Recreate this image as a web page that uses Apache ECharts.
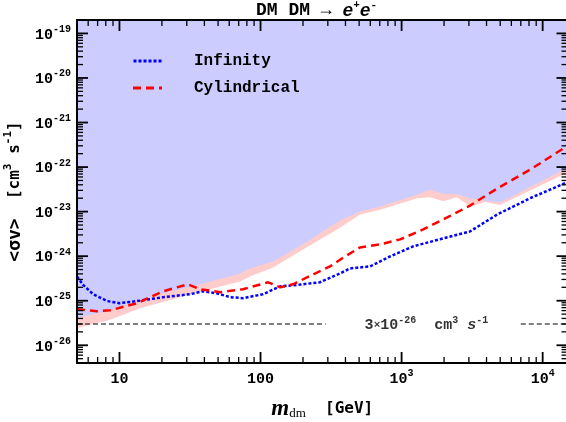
<!DOCTYPE html>
<html><head><meta charset="utf-8">
<script src="https://cdn.jsdelivr.net/npm/echarts@6/dist/echarts.min.js"></script>
<style>html,body{margin:0;padding:0;background:#fff}#c{width:566px;height:422px}</style>
</head><body><div id="c"></div>
<script>
// ---- data ----
const xRange = [5, 15000];
const yRange = [4e-27, 2e-19];

const bandMass = [5, 6, 8, 10, 14, 20, 37, 72, 84, 123, 214, 311, 367, 508, 705, 1290, 1590, 1970, 2470, 3060, 3910, 4990, 15000];
const bandLow  = [2.4e-26, 2.8e-26, 3.5e-26, 4.5e-26, 6.8e-26, 9.2e-26, 1.6e-25, 2.7e-25, 3.5e-25, 5.6e-25, 1.6e-24, 3.2e-24, 4.4e-24, 8.6e-24, 1.1e-23, 2.0e-23, 2.1e-23, 1.7e-23, 2.1e-23, 1.3e-23, 1.65e-23, 1.4e-23, 7.5e-23];
const bandHigh = [4.1e-26, 4.7e-26, 5.8e-26, 7.2e-26, 1.05e-25, 1.45e-25, 2.3e-25, 4.1e-25, 5.3e-25, 7.6e-25, 2.1e-24, 4.6e-24, 6.3e-24, 1.0e-23, 1.3e-23, 2.4e-23, 3.1e-23, 2.5e-23, 2.5e-23, 2.0e-23, 1.75e-23, 1.6e-23, 9.7e-23];

const infMass = [5, 5.5, 6.5, 8.2, 10, 13.3, 20.4, 31.7, 39, 49, 61, 75, 104, 138, 191, 264, 366, 431, 598, 829, 1206, 1874, 3060, 4756, 8147, 15000];
const infVal  = [3.5e-25, 2.3e-25, 1.4e-25, 9.8e-26, 8.8e-26, 9.8e-26, 1.2e-25, 1.4e-25, 1.63e-25, 1.47e-25, 1.2e-25, 1.14e-25, 1.4e-25, 2.1e-25, 2.3e-25, 2.6e-25, 4.1e-25, 5.3e-25, 5.9e-25, 9.9e-25, 1.66e-24, 2.4e-24, 3.6e-24, 8.6e-24, 2.0e-23, 4.6e-23];

const cylMass = [5, 6.95, 8.6, 13.3, 20.4, 30.6, 37.3, 52, 75, 113, 138, 170, 236, 311, 398, 508, 705, 977, 1422, 2104, 3060, 4756, 8147, 15000];
const cylVal  = [6.4e-26, 5.8e-26, 6.1e-26, 8.8e-26, 1.63e-25, 2.34e-25, 1.81e-25, 1.55e-25, 1.81e-25, 2.59e-25, 2.0e-25, 2.34e-25, 3.9e-25, 5.9e-25, 9.9e-25, 1.57e-24, 1.84e-24, 2.38e-24, 3.98e-24, 7.4e-24, 1.37e-23, 3.3e-23, 8.75e-23, 3.0e-22];

const refValue = 3e-26;
const refLeftMass = [5, 290];
const refRightMass = [7000, 15000];
const refLabelMass = 1500;

const xMajorTicks = [10, 100, 1000, 10000];
const xTickLabels = ['10', '100', '10^3', '10^4'];
const yMajorTicks = [1e-26, 1e-25, 1e-24, 1e-23, 1e-22, 1e-21, 1e-20, 1e-19];
const yTickLabels = ['10^-26', '10^-25', '10^-24', '10^-23', '10^-22', '10^-21', '10^-20', '10^-19'];
const tickMultipliers = [2, 3, 4, 5, 6, 7, 8, 9];

// ---- layout ----
const GRID = {left: 77, top: 20, width: 490.5, height: 343};

// ---- helpers (the axes run in log10 space) ----
const L10 = Math.log10;
const MONO = '"Liberation Mono", "Courier New", monospace';
const SMONO = '"DejaVu Sans Mono", monospace';
const pair = (xs, ys) => xs.map((x, i) => [L10(x), L10(ys[i])]);
const toRich = s => { const p = s.split('^'); return '{b|' + p[0] + '}' + (p[1] ? '{s|' + p[1] + '}' : ''); };
const findLabel = (v, ticks, labels) => {
  for (let i = 0; i < ticks.length; i++) {
    if (Math.abs(v - L10(ticks[i])) < 1e-6) return toRich(labels[i]);
  }
  return '';
};
const tickRich = {
  b: {fontFamily: MONO, fontWeight: 'bold', fontSize: 15, lineHeight: 15, padding: [3, 0, 0, 0], color: '#000'},
  s: {fontFamily: MONO, fontWeight: 'bold', fontSize: 10, lineHeight: 10, padding: [0, 0, 8, 0], color: '#000'}
};
function minorTicks(range) {
  const out = [];
  const d0 = Math.floor(L10(range[0])), d1 = Math.ceil(L10(range[1]));
  for (let d = d0; d <= d1; d++) {
    tickMultipliers.forEach(k => {
      const v = k * Math.pow(10, d);
      if (v > range[0] * 1.0001 && v < range[1] * 0.9999) out.push(L10(v));
    });
  }
  return out;
}
const xr = xRange.map(L10), yr = yRange.map(L10);
const xMajorLog = xMajorTicks.map(L10), yMajorLog = yMajorTicks.map(L10);
const xMinorLog = minorTicks(xRange), yMinorLog = minorTicks(yRange);

// tick lengths (pixels) expressed in axis units of the log10 axes
const xPerPx = (xr[1] - xr[0]) / GRID.width, yPerPx = (yr[1] - yr[0]) / GRID.height;
const tickSeries = (data, w) => ({
  type: 'line', silent: true, symbol: 'none', z: 20, clip: false,
  data: data, lineStyle: {color: '#000', width: w, type: 'solid'}
});
const tickMarks = [];
[[xMajorLog, 11, 1.8], [xMinorLog, 6, 1.3]].forEach(([vals, len, w]) => vals.forEach(v => {
  tickMarks.push(tickSeries([[v, yr[0]], [v, yr[0] + len * yPerPx]], w));
  tickMarks.push(tickSeries([[v, yr[1]], [v, yr[1] - len * yPerPx]], w));
}));
[[yMajorLog, 11, 1.8], [yMinorLog, 6, 1.3]].forEach(([vals, len, w]) => vals.forEach(v => {
  tickMarks.push(tickSeries([[xr[0], v], [xr[0] + len * xPerPx, v]], w));
  tickMarks.push(tickSeries([[xr[1], v], [xr[1] - len * xPerPx, v]], w));
}));

const axisBase = (extra) => Object.assign({
  type: 'value', scale: true,
  axisLine: {show: true, onZero: false, lineStyle: {color: '#000', width: 2}},
  axisTick: {show: false},
  axisLabel: {show: false},
  splitLine: {show: false},
  minorTick: {show: false},
  z: 10
}, extra);

const blueIcon = 'path://M0 0h3v3H0zM5 0h3v3H5zM10 0h3v3h-3zM15 0h3v3h-3zM20 0h3v3h-3zM25 0h3v3h-3z';
const redIcon = 'path://M0 0h8v3H0zM13 0h8v3h-8zM26 0h3v3h-3z';

const option = {
  animation: false,
  backgroundColor: '#fff',
  title: {
    text: 'DM DM → {i|e}{s|+}{i|e}{s|-}',
    left: 256, top: 1, padding: 0,
    textStyle: {
      fontFamily: MONO, fontWeight: 'bold', fontSize: 18, lineHeight: 18, color: '#000', padding: [3, 0, 0, 0],
      rich: {
        i: {fontFamily: MONO, fontWeight: 'bold', fontStyle: 'italic', fontSize: 18, lineHeight: 18, padding: [3, 0, 0, 0], color: '#000'},
        s: {fontFamily: MONO, fontWeight: 'bold', fontSize: 11, lineHeight: 11, padding: [0, 0, 10, 0], color: '#000'}
      }
    }
  },
  legend: {
    data: [{name: 'Infinity', icon: blueIcon}, {name: 'Cylindrical', icon: redIcon}],
    orient: 'vertical', left: 128, top: 48,
    itemWidth: 29, itemHeight: 3, itemGap: 11,
    textStyle: {fontFamily: MONO, fontWeight: 'bold', fontSize: 16, color: '#000', padding: [0, 0, 0, 27]}
  },
  grid: Object.assign({containLabel: false, outerBoundsMode: 'none'}, GRID),
  xAxis: [
    axisBase({
      min: xr[0], max: xr[1], position: 'bottom',
      axisLabel: {show: true, margin: 7, customValues: xMajorLog, formatter: v => findLabel(v, xMajorTicks, xTickLabels), rich: tickRich},
      name: '{m|m}{d|dm}{g|  [GeV]}', nameLocation: 'middle', nameGap: 35,
      nameTextStyle: {
        color: '#000',
        rich: {
          m: {fontFamily: '"Liberation Serif", serif', fontStyle: 'italic', fontWeight: 'bold', fontSize: 23, lineHeight: 22, color: '#000'},
          d: {fontFamily: '"Liberation Serif", serif', fontSize: 13, lineHeight: 13, padding: [9, 0, 0, 0], color: '#000'},
          g: {fontFamily: SMONO, fontWeight: 'bold', fontSize: 16, lineHeight: 22, color: '#000'}
        }
      }
    }),
    axisBase({min: xr[0], max: xr[1], position: 'top'})
  ],
  yAxis: [
    axisBase({
      min: yr[0], max: yr[1], position: 'left',
      axisLabel: {show: true, margin: 6, customValues: yMajorLog, formatter: v => findLabel(v, yMajorTicks, yTickLabels), rich: tickRich},
      name: '{g|<σv>}{n|  [cm}{s|3}{n| s}{s|-1}{n|]}', nameLocation: 'middle', nameGap: 48,
      nameTextStyle: {
        color: '#000',
        rich: {
          g: {fontFamily: SMONO, fontWeight: 'bold', fontSize: 18, lineHeight: 16, padding: [4, 0, 0, 0], color: '#000'},
          n: {fontFamily: SMONO, fontWeight: 'bold', fontSize: 16, lineHeight: 16, padding: [4, 0, 0, 0], color: '#000'},
          s: {fontFamily: SMONO, fontWeight: 'bold', fontSize: 11, lineHeight: 11, padding: [0, 0, 9, 0], color: '#000'}
        }
      }
    }),
    axisBase({min: yr[0], max: yr[1], position: 'right'})
  ],
  series: [
    {
      name: 'band', type: 'line', silent: true, symbol: 'none', z: 1,
      data: pair(bandMass, bandLow),
      lineStyle: {width: 0},
      areaStyle: {color: '#ffcccc', opacity: 1, origin: 'end'}
    },
    {
      name: 'excluded', type: 'line', silent: true, symbol: 'none', z: 1,
      data: pair(bandMass, bandHigh),
      lineStyle: {width: 0},
      areaStyle: {color: '#ccccff', opacity: 1, origin: 'end'}
    },
    {
      name: 'refA', type: 'line', silent: true, symbol: 'none', z: 3,
      data: pair(refLeftMass, refLeftMass.map(() => refValue)),
      lineStyle: {color: '#000', width: 1, type: [5, 3]}
    },
    {
      name: 'refB', type: 'line', silent: true, symbol: 'none', z: 3,
      data: pair(refRightMass, refRightMass.map(() => refValue)),
      lineStyle: {color: '#000', width: 1, type: [5, 3]}
    },
    {
      name: 'refLabel', type: 'scatter', silent: true, symbolSize: 0, z: 5,
      data: pair([refLabelMass], [refValue]),
      label: {
        show: true, position: 'inside',
        formatter: '{n|3}{x|×}{n|10}{s|-26}{n|  cm}{s|3}{n| }{i|s}{s|-1}',
        rich: {
          n: {fontFamily: MONO, fontWeight: 'bold', fontSize: 15, lineHeight: 15, padding: [3, 0, 0, 0], color: '#000'},
          x: {fontFamily: MONO, fontWeight: 'bold', fontSize: 11, lineHeight: 15, padding: [3, 0, 0, 0], color: '#000'},
          i: {fontFamily: MONO, fontWeight: 'bold', fontStyle: 'italic', fontSize: 15, lineHeight: 15, padding: [3, 0, 0, 0], color: '#000'},
          s: {fontFamily: MONO, fontWeight: 'bold', fontSize: 10, lineHeight: 10, padding: [0, 0, 8, 0], color: '#000'}
        }
      }
    },
    {
      name: 'Infinity', type: 'line', symbol: 'none', z: 4,
      data: pair(infMass, infVal),
      lineStyle: {color: '#0000ff', width: 2.5, type: [3, 2]},
      itemStyle: {color: '#0000ff'}
    },
    {
      name: 'Cylindrical', type: 'line', symbol: 'none', z: 4,
      data: pair(cylMass, cylVal),
      lineStyle: {color: '#ff0000', width: 2.5, type: [8, 5]},
      itemStyle: {color: '#ff0000'}
    }
  ].concat(tickMarks)
};

const chart = echarts.init(document.getElementById('c'), null, {renderer: 'canvas', width: 566, height: 422});
chart.setOption(option);
</script>
</body></html>
